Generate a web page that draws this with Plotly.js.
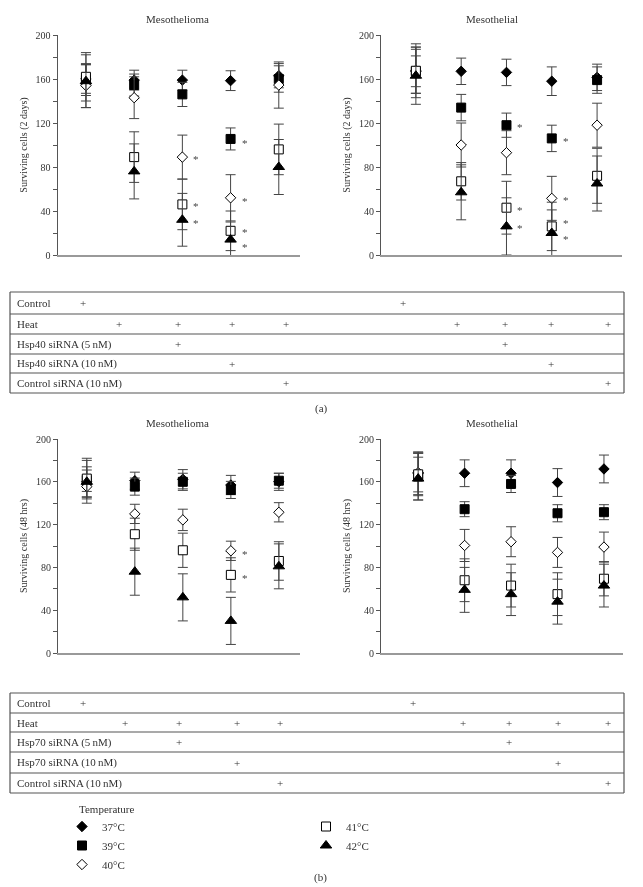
<!DOCTYPE html>
<html><head><meta charset="utf-8">
<script src="https://cdn.plot.ly/plotly-3.0.1.min.js"></script>
<style>html,body{margin:0;padding:0;background:#fff}#chart{width:643px;height:887px}
.main-svg{will-change:transform}
</style>
</head><body><div id="chart"></div>
<script>
// ---------- data ----------
const categories = [1, 2, 3, 4, 5];
const temperatures = ['37°C', '39°C', '40°C', '41°C', '42°C'];

// (a) Mesothelioma, surviving cells (2 days)
const aOma37 = [160, 159, 159, 158.5, 163],  aOma37e = [13, 9, 9, 9, 11];
const aOma39 = [159, 154.5, 146, 105.5, 160], aOma39e = [14, 10, 11, 10, 12];
const aOma40 = [154, 143, 89, 52, 154.5],     aOma40e = [20, 19, 20, 21, 21];
const aOma41 = [162, 89, 46, 22, 96],         aOma41e = [22, 23, 23, 18, 23];
const aOma42 = [158, 76, 32, 14, 80],         aOma42e = [24, 25, 24, 16, 25];
const aOmaStarX = [3, 3, 3, 4, 4, 4, 4];
const aOmaStarY = [89, 46, 31, 104, 51, 23, 9];

// (a) Mesothelial, surviving cells (2 days)
const aLial37 = [168, 167, 166, 158, 161.5],  aLial37e = [21, 12, 12, 13, 12];
const aLial39 = [167, 134, 118, 106, 159],    aLial39e = [14, 12, 11, 12, 12];
const aLial40 = [167, 100, 93, 51.5, 118],    aLial40e = [20, 20, 20, 20, 20];
const aLial41 = [167.5, 67, 43, 26, 72],      aLial41e = [24.5, 17, 24, 22, 25];
const aLial42 = [163, 57, 26, 20, 65],        aLial42e = [26, 25, 26, 21, 25];
const aLialStarX = [3, 3, 3, 4, 4, 4, 4];
const aLialStarY = [118.5, 43, 26, 105, 52, 30.5, 16];

// (b) Mesothelioma, surviving cells (48 hrs)
const bOma37 = [160, 161, 162.4, 157, 160],   bOma37e = [14, 8, 9, 9, 8];
const bOma39 = [161, 155.5, 160, 152.4, 161], bOma39e = [10, 8, 8, 8, 7];
const bOma40 = [155.5, 130, 124.4, 95.5, 131.5], bOma40e = [10, 9, 10, 9, 9];
const bOma41 = [163, 111, 96, 73, 86],        bOma41e = [19, 15, 16, 16, 18];
const bOma42 = [160, 76, 52, 30, 81],         bOma42e = [20, 22, 22, 22, 21];
const bOmaStarX = [4, 4];
const bOmaStarY = [94.5, 72];

// (b) Mesothelial, surviving cells (48 hrs)
const bLial37 = [168, 168, 168, 159.3, 172],  bLial37e = [20, 12.5, 12.5, 13, 13];
const bLial39 = [165, 134.4, 158, 130.6, 131.6], bLial39e = [22, 7, 8, 8, 7];
const bLial40 = [168.6, 100.5, 104, 94, 99],  bLial40e = [18, 15, 14, 14, 14];
const bLial41 = [167, 68, 63, 55, 69.4],      bLial41e = [20, 20, 20, 20, 16];
const bLial42 = [163, 59, 55, 48, 63],        bLial42e = [20, 21, 20, 21, 20];

// treatment tables
const tableRowsA = ['Control', 'Heat', 'Hsp40 siRNA (5\u2009nM)', 'Hsp40 siRNA (10\u2009nM)', 'Control siRNA (10\u2009nM)'];
const tableRowsB = ['Control', 'Heat', 'Hsp70 siRNA (5\u2009nM)', 'Hsp70 siRNA (10\u2009nM)', 'Control siRNA (10\u2009nM)'];
const flagControl = [1, 0, 0, 0, 0, 1, 0, 0, 0, 0];
const flagHeat    = [0, 1, 1, 1, 1, 0, 1, 1, 1, 1];
const flag5nM     = [0, 0, 1, 0, 0, 0, 0, 1, 0, 0];
const flag10nM    = [0, 0, 0, 1, 0, 0, 0, 0, 1, 0];
const flagCtrlSi  = [0, 0, 0, 0, 1, 0, 0, 0, 0, 1];

// ---------- layout helpers ----------
const W = 643, H = 887;
const X = px => px / W;
const Y = py => 1 - py / H;
const FONT = 'Liberation Serif, Times New Roman, serif';
const TXT = '#333';

const styles = [
  {symbol: 'diamond',     size: 8,  color: '#000', line: {color: '#000', width: 1}},
  {symbol: 'square',      size: 9,  color: '#000', line: {color: '#000', width: 1}},
  {symbol: 'diamond',     size: 8,  color: '#fff', line: {color: '#000', width: 1}},
  {symbol: 'square',      size: 9,  color: '#fff', line: {color: '#000', width: 1}},
  {symbol: 'triangle-up', size: 10, color: '#000', line: {color: '#000', width: 1}}
];

const panels = [
  {vals: [aOma37, aOma39, aOma40, aOma41, aOma42], errs: [aOma37e, aOma39e, aOma40e, aOma41e, aOma42e],
   xa: 'x', ya: 'y', sx: aOmaStarX, sy: aOmaStarY, legend: true},
  {vals: [aLial37, aLial39, aLial40, aLial41, aLial42], errs: [aLial37e, aLial39e, aLial40e, aLial41e, aLial42e],
   xa: 'x2', ya: 'y2', sx: aLialStarX, sy: aLialStarY},
  {vals: [bOma37, bOma39, bOma40, bOma41, bOma42], errs: [bOma37e, bOma39e, bOma40e, bOma41e, bOma42e],
   xa: 'x3', ya: 'y3', sx: bOmaStarX, sy: bOmaStarY},
  {vals: [bLial37, bLial39, bLial40, bLial41, bLial42], errs: [bLial37e, bLial39e, bLial40e, bLial41e, bLial42e],
   xa: 'x4', ya: 'y4', sx: [], sy: []}
];

const traces = [];
const annotations = [];
panels.forEach(p => {
  p.vals.forEach((v, i) => {
    traces.push({
      type: 'scatter', mode: 'markers', x: categories, y: v, xaxis: p.xa, yaxis: p.ya,
      name: temperatures[i], showlegend: !!p.legend, legend: i < 3 ? 'legend' : 'legend2',
      cliponaxis: false,
      marker: styles[i],
      error_y: {type: 'data', array: p.errs[i], visible: true, color: '#444', thickness: 1, width: 5}
    });
  });
  p.sx.forEach((sx, k) => {
    annotations.push({xref: p.xa, yref: p.ya, x: sx, y: p.sy[k], text: '*', showarrow: false,
      xanchor: 'center', yanchor: 'middle', xshift: 14, yshift: -2, borderpad: 0,
      font: {family: FONT, size: 11, color: '#444'}});
  });
});

function txt(px, py, text, size, anchor) {
  annotations.push({xref: 'paper', yref: 'paper', x: X(px), y: Y(py), text: text, showarrow: false,
    xanchor: anchor || 'center', yanchor: 'middle', font: {family: FONT, size: size, color: TXT}});
}
txt(177, 19, 'Mesothelioma', 11);
txt(492, 19, 'Mesothelial', 11);
txt(177, 423, 'Mesothelioma', 11);
txt(492, 423, 'Mesothelial', 11);
txt(321, 408, '(a)', 11);
txt(320, 877, '(b)', 11);
txt(77, 809, 'Temperature', 11, 'left');

const shapes = [];
const flags = [flagControl, flagHeat, flag5nM, flag10nM, flagCtrlSi];
function table(rows, bounds, colX) {
  const L = 10, R = 624;
  bounds.forEach(b => shapes.push({type: 'line', xref: 'paper', yref: 'paper', x0: X(L), x1: X(R), y0: Y(b), y1: Y(b),
    line: {color: '#555', width: 1.2}}));
  shapes.push({type: 'line', xref: 'paper', yref: 'paper', x0: X(L), x1: X(L), y0: Y(bounds[0]), y1: Y(bounds[bounds.length - 1]), line: {color: '#555', width: 1.2}});
  shapes.push({type: 'line', xref: 'paper', yref: 'paper', x0: X(R), x1: X(R), y0: Y(bounds[0]), y1: Y(bounds[bounds.length - 1]), line: {color: '#555', width: 1.2}});
  rows.forEach((r, i) => {
    const yc = (bounds[i] + bounds[i + 1]) / 2;
    txt(15, yc, r, 11, 'left');
    flags[i].forEach((f, j) => { if (f) txt(colX[j], yc, '+', 11); });
  });
}
table(tableRowsA, [292, 314, 334, 354, 373, 393], [83, 119, 178, 232, 286, 403, 457, 505, 551, 608]);
table(tableRowsB, [693, 713, 732, 752, 773, 793], [83, 125, 179, 237, 280, 413, 463, 509, 558, 608]);

function xax(l, r, range) {
  return {domain: [X(l), X(r)], range: range, showline: true, linecolor: '#999', linewidth: 2,
    showticklabels: false, ticks: '', showgrid: false, zeroline: false, fixedrange: true};
}
function yax(t, b, title, anchor) {
  return {domain: [Y(b), Y(t)], range: [0, 200], anchor: anchor, showline: true, linecolor: '#555', linewidth: 1,
    ticks: 'outside', ticklen: 4, tickcolor: '#555', dtick: 40, tick0: 0,
    minor: {dtick: 20, ticks: 'outside', ticklen: 4, tickcolor: '#555'},
    tickfont: {family: FONT, size: 10, color: TXT}, showgrid: false, zeroline: false,
    title: {text: title, font: {family: FONT, size: 10, color: TXT}, standoff: 6}};
}

const layout = {
  width: W, height: H, margin: {l: 0, r: 0, t: 0, b: 0}, paper_bgcolor: '#fff', plot_bgcolor: 'rgba(0,0,0,0)',
  font: {family: FONT, color: TXT},
  xaxis: xax(57.5, 300, [0.41, 5.44]), yaxis: yax(35, 255, 'Surviving cells (2 days)', 'x'),
  xaxis2: Object.assign(xax(381, 622, [0.23, 5.55]), {anchor: 'y2'}), yaxis2: yax(35, 255, 'Surviving cells (2 days)', 'x2'),
  xaxis3: Object.assign(xax(58, 300, [0.4, 5.44]), {anchor: 'y3'}), yaxis3: yax(439, 653, 'Surviving cells (48 hrs)', 'x3'),
  xaxis4: Object.assign(xax(381, 623, [0.2, 5.41]), {anchor: 'y4'}), yaxis4: yax(439, 653, 'Surviving cells (48 hrs)', 'x4'),
  legend: {x: X(62), y: Y(812), xanchor: 'left', yanchor: 'top', bgcolor: 'rgba(0,0,0,0)',
    font: {family: FONT, size: 11, color: TXT}, tracegroupgap: 0, itemwidth: 30},
  legend2: {x: X(306), y: Y(812), xanchor: 'left', yanchor: 'top', bgcolor: 'rgba(0,0,0,0)',
    font: {family: FONT, size: 11, color: TXT}, tracegroupgap: 0, itemwidth: 30},
  shapes: shapes, annotations: annotations
};

Plotly.newPlot('chart', traces, layout, {displayModeBar: false, staticPlot: true});
</script>
</body></html>
